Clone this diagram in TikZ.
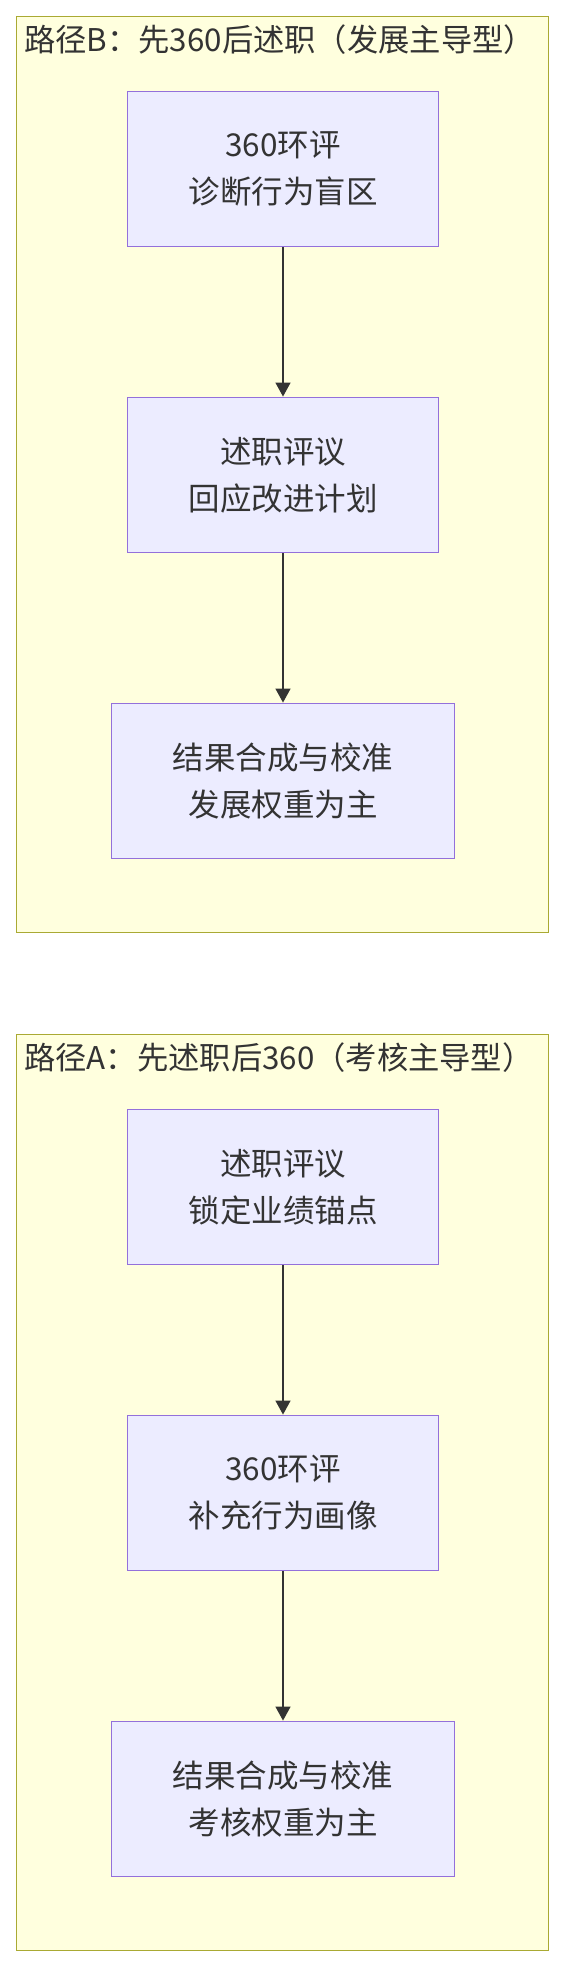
\documentclass[tikz,border=0pt]{standalone}
\usepackage{fontspec}
\setmainfont{Noto Sans CJK SC}
\usetikzlibrary{arrows.meta}
\definecolor{frameFill}{HTML}{FFFFDE}
\definecolor{frameLine}{HTML}{AAAA33}
\definecolor{nodeFill}{HTML}{ECECFF}
\definecolor{nodeLine}{HTML}{9370DB}
\definecolor{txt}{HTML}{333333}
\begin{document}
\begin{tikzpicture}[x=1pt,y=-1pt,
 frame/.style={draw=frameLine, fill=frameFill, line width=1.4pt, minimum width=532pt, minimum height=916pt, inner sep=0pt},
 box/.style={draw=nodeLine, fill=nodeFill, line width=1.9pt, minimum height=155pt, inner sep=0pt, align=center, text=txt, font=\fontsize{31.5}{47}\selectfont},
 title/.style={anchor=west, inner sep=0pt, text=txt, font=\fontsize{31.3}{47}\selectfont},
 arr/.style={draw=txt, line width=1.5pt, -{Triangle[width=15pt,length=14pt]}}]
\useasboundingbox (0,0) rectangle (565,1968);
% Path B
\node[frame] (fB) at (282.5,474.5) {};
\node[title] (tB) at (24,40) {路径B：先360后述职（发展主导型）};
\node[box, minimum width=311pt] (b1) at (283,169) {360环评\\诊断行为盲区};
\node[box, minimum width=311pt] (b2) at (283,475) {述职评议\\回应改进计划};
\node[box, minimum width=343pt] (b3) at (283,781) {结果合成与校准\\发展权重为主};
\draw[arr] (b1) -- (b2);
\draw[arr] (b2) -- (b3);
% Path A
\node[frame] (fA) at (282.5,1492.5) {};
\node[title] (tA) at (24,1058) {路径A：先述职后360（考核主导型）};
\node[box, minimum width=311pt] (a1) at (283,1187) {述职评议\\锁定业绩锚点};
\node[box, minimum width=311pt] (a2) at (283,1493) {360环评\\补充行为画像};
\node[box, minimum width=343pt] (a3) at (283,1799) {结果合成与校准\\考核权重为主};
\draw[arr] (a1) -- (a2);
\draw[arr] (a2) -- (a3);
\end{tikzpicture}
\end{document}
